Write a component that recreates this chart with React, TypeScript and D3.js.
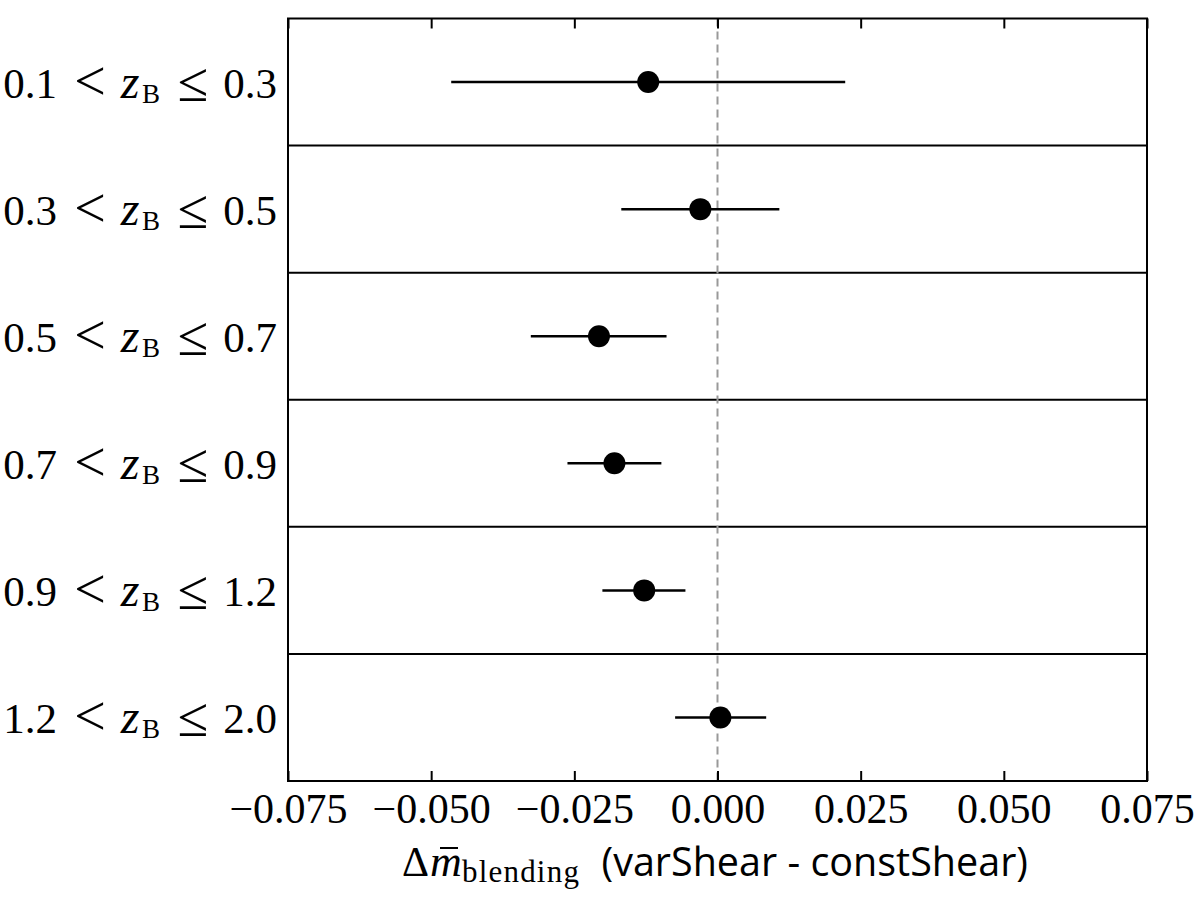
import React, { useEffect, useRef } from 'react';
import * as d3 from 'd3';

// redshift bins (top to bottom)
const binLo = ['0.1', '0.3', '0.5', '0.7', '0.9', '1.2'];
const binHi = ['0.3', '0.5', '0.7', '0.9', '1.2', '2.0'];
// mean delta m and error bar ends
const meanDm = [-0.0121, -0.0030, -0.0207, -0.0180, -0.0128, 0.0005];
const errLo = [-0.0465, -0.0168, -0.0326, -0.0262, -0.0201, -0.0074];
const errHi = [0.0223, 0.0108, -0.0089, -0.0098, -0.0056, 0.0085];
const xTicks = [-0.075, -0.05, -0.025, 0, 0.025, 0.05, 0.075];

const serif = "'Liberation Serif', 'DejaVu Serif', serif";
const sans = "'Open Sans', 'DejaVu Sans', sans-serif";

const App = () => {
  const bottomRef = useRef<SVGGElement>(null);
  const topRef = useRef<SVGGElement>(null);

  const width = 1200;
  const height = 902;
  const margin = { top: 18.5, right: 53, bottom: 121, left: 288 };
  const plotR = width - margin.right;
  const plotB = height - margin.bottom;

  const x = d3.scaleLinear().domain([-0.075, 0.075]).range([margin.left, plotR]);
  const y = d3.scaleBand<number>()
    .domain(d3.range(binLo.length))
    .range([margin.top, plotB])
    .paddingInner(0);

  useEffect(() => {
    const fmt = d3.format('.3f');
    const bottom = d3.select(bottomRef.current!);
    bottom.call(
      d3.axisBottom(x).tickValues(xTicks).tickSize(-10).tickPadding(12).tickFormat(d => fmt(d as number))
    );
    bottom.select('.domain').remove();
    bottom.selectAll('line').attr('stroke', '#000').attr('stroke-width', 2);
    bottom.selectAll('text')
      .attr('font-family', serif)
      .attr('font-size', 42)
      .attr('fill', '#000');

    const top = d3.select(topRef.current!);
    top.call(d3.axisTop(x).tickValues(xTicks).tickSize(-10).tickFormat(() => ''));
    top.select('.domain').remove();
    top.selectAll('line').attr('stroke', '#000').attr('stroke-width', 2);
  }, []);

  const rows = d3.range(binLo.length);
  const lx = 277; // right edge of the row labels

  return (
    <svg width={width} height={height} style={{ position: 'absolute', left: 0, top: 0, background: '#fff' }}>
      {/* row separators */}
      {rows.slice(1).map(i => (
        <line key={'s' + i} x1={margin.left} x2={plotR} y1={y(i)!} y2={y(i)!} stroke="#000" strokeWidth={2} />
      ))}
      {/* zero line */}
      <line x1={x(0)} x2={x(0)} y1={margin.top} y2={plotB} stroke="#999" strokeWidth={2} strokeDasharray="8,5" />
      {/* error bars and points */}
      {rows.map(i => {
        const cy = y(i)! + y.bandwidth() / 2;
        return (
          <g key={'p' + i}>
            <line x1={x(errLo[i])} x2={x(errHi[i])} y1={cy} y2={cy} stroke="#000" strokeWidth={2.5} />
            <circle cx={x(meanDm[i])} cy={cy} r={11} fill="#000" />
          </g>
        );
      })}
      <g ref={bottomRef} transform={`translate(0,${plotB})`} />
      <g ref={topRef} transform={`translate(0,${margin.top})`} />
      {/* frame */}
      <rect x={margin.left} y={margin.top} width={plotR - margin.left} height={plotB - margin.top}
        fill="none" stroke="#000" strokeWidth={2} />
      {/* row labels */}
      {rows.map(i => {
        const base = y(i)! + y.bandwidth() / 2 + 16;
        return (
          <g key={'l' + i} fontFamily={serif} fill="#000">
            <text x={lx - 220} y={base} textAnchor="end" fontSize={43}>{binLo[i]}</text>
            <text x={lx - 187} y={base + 2} textAnchor="middle" fontSize={56}>&lt;</text>
            <text x={lx - 147} y={base} textAnchor="middle" fontSize={48} fontStyle="italic">z</text>
            <text x={lx - 135} y={base + 5} textAnchor="start" fontSize={27}>B</text>
            <text x={lx - 84} y={base + 3} textAnchor="middle" fontSize={56}>≤</text>
            <text x={lx} y={base} textAnchor="end" fontSize={43}>{binHi[i]}</text>
          </g>
        );
      })}
      {/* x label */}
      <g fill="#000">
        <text x={402} y={876} fontFamily={serif} fontSize={42}>Δ</text>
        <text x={430} y={876} fontFamily={serif} fontSize={44} fontStyle="italic">m</text>
        <line x1={440} x2={458} y1={848} y2={848} stroke="#000" strokeWidth={2} />
        <text x={462} y={882} fontFamily={serif} fontSize={31} letterSpacing={1.2}>blending</text>
        <text x={1028} y={876} fontFamily={sans} fontSize={39.5} textAnchor="end">(varShear - constShear)</text>
      </g>
    </svg>
  );
};

export default App;
